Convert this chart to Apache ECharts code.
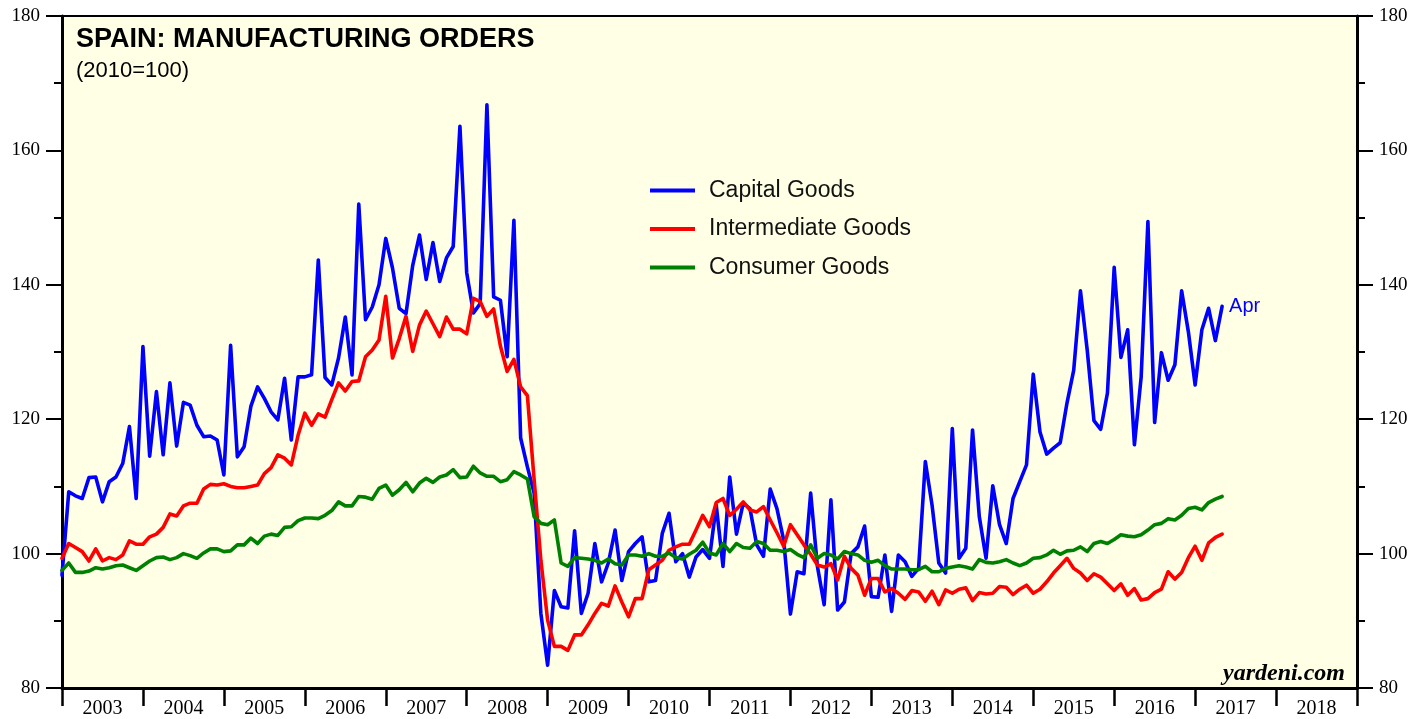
<!DOCTYPE html>
<html>
<head>
<meta charset="utf-8">
<title>Spain: Manufacturing Orders</title>
<script src="https://cdn.jsdelivr.net/npm/echarts@6/dist/echarts.min.js"></script>
<style>
    html, body { margin: 0; padding: 0; background: #fff; }
    #chart { width: 1427px; height: 719px; }
</style>
</head>
<body>
<div id="chart"></div>
<script>
// monthly data, Dec 2002 .. Apr 2017 (2010=100)
var firstMonth = [2002, 12];
var lastMonth = [2017, 4];

var years = ['2003', '2004', '2005', '2006', '2007', '2008', '2009', '2010',
    '2011', '2012', '2013', '2014', '2015', '2016', '2017', '2018'];

var capitalGoods = [
    96.8, 109.2, 108.6, 108.2, 111.3, 111.4, 107.7, 110.7, 111.4, 113.4, 118.9, 108.2,
    130.8, 114.5, 124.1, 114.7, 125.4, 116.0, 122.5, 122.1, 119.1, 117.4, 117.5, 116.9,
    111.7, 131.0, 114.4, 115.9, 121.9, 124.8, 123.1, 121.1, 119.9, 126.1, 116.9, 126.3,
    126.3, 126.6, 143.7, 126.2, 125.1, 129.1, 135.2, 126.6, 152.0, 134.8, 136.7, 140.0,
    146.9, 142.5, 136.5, 135.7, 142.9, 147.4, 140.8, 146.3, 140.5, 144.0, 145.7, 163.6,
    141.8, 135.8, 137.2, 166.8, 138.2, 137.7, 129.3, 149.6, 117.2, 112.9, 109.0, 91.1,
    83.4, 94.5, 92.1, 91.9, 103.4, 91.1, 94.1, 101.5, 95.8, 98.6, 103.5, 96.0,
    100.3, 101.5, 102.5, 95.8, 96.0, 103.0, 106.0, 98.8, 100.0, 96.5, 99.5, 100.6,
    99.3, 107.2, 98.1, 111.4, 102.9, 107.5, 106.7, 101.3, 99.6, 109.6, 106.7, 102.0,
    91.0, 97.3, 97.0, 109.0, 98.1, 92.4, 108.0, 91.6, 92.8, 100.0, 101.0, 104.1,
    93.6, 93.5, 99.8, 91.4, 99.8, 98.8, 96.6, 97.8, 113.7, 107.2, 98.6, 97.1,
    118.6, 99.3, 100.8, 118.4, 105.5, 99.3, 110.1, 104.3, 101.5, 108.2, 110.7, 113.2,
    126.7, 118.1, 114.8, 115.7, 116.5, 122.4, 127.3, 139.1, 130.3, 119.8, 118.5, 123.9,
    142.6, 129.2, 133.3, 116.2, 126.3, 149.4, 119.5, 129.9, 125.8, 128.1, 139.1, 133.0,
    125.1, 133.3, 136.5, 131.7, 136.8
];

var intermediateGoods = [
    99.3, 101.5, 100.9, 100.3, 98.9, 100.7, 98.9, 99.4, 99.1, 99.8, 101.9, 101.4,
    101.4, 102.5, 102.9, 103.9, 105.9, 105.6, 107.1, 107.5, 107.5, 109.6, 110.3, 110.2,
    110.4, 110.0, 109.8, 109.8, 110.0, 110.2, 111.9, 112.8, 114.7, 114.2, 113.2, 117.6,
    120.9, 119.1, 120.8, 120.3, 122.9, 125.4, 124.2, 125.6, 125.7, 129.3, 130.3, 131.8,
    138.3, 129.1, 132.0, 135.3, 130.1, 134.0, 136.1, 134.2, 132.3, 135.2, 133.4, 133.4,
    132.7, 138.0, 137.5, 135.3, 136.4, 130.9, 127.1, 128.9, 124.8, 123.5, 111.0, 99.0,
    90.1, 86.2, 86.2, 85.6, 87.9, 87.9, 89.4, 91.1, 92.6, 92.2, 95.2, 92.8,
    90.6, 93.3, 93.3, 97.6, 98.3, 99.0, 100.5, 101.0, 101.4, 101.4, 103.5, 105.7,
    104.0, 107.6, 108.2, 105.7, 106.6, 107.7, 106.5, 106.2, 107.0, 105.0, 103.1, 101.1,
    104.3, 102.8, 101.3, 99.9, 98.3, 98.0, 98.5, 96.1, 99.6, 97.8, 96.8, 93.8,
    96.3, 96.3, 94.3, 94.8, 94.1, 93.2, 94.5, 94.3, 92.9, 94.4, 92.4, 94.6,
    94.1, 94.7, 94.9, 93.0, 94.2, 94.0, 94.1, 95.1, 95.0, 93.9, 94.7, 95.3,
    94.1, 94.7, 95.8, 97.1, 98.2, 99.3, 97.8, 97.1, 96.0, 97.0, 96.5, 95.5,
    94.5, 95.5, 93.8, 94.8, 93.1, 93.3, 94.2, 94.7, 97.3, 96.2, 97.2, 99.4,
    101.1, 99.0, 101.6, 102.4, 102.9
];

var consumerGoods = [
    97.5, 98.6, 97.2, 97.2, 97.4, 97.9, 97.7, 97.9, 98.2, 98.3, 97.9, 97.5,
    98.2, 98.9, 99.4, 99.5, 99.1, 99.4, 100.0, 99.7, 99.3, 100.1, 100.7, 100.7,
    100.3, 100.4, 101.3, 101.3, 102.3, 101.5, 102.6, 102.9, 102.7, 103.9, 104.0, 104.9,
    105.3, 105.3, 105.2, 105.7, 106.4, 107.7, 107.1, 107.1, 108.5, 108.4, 108.1, 109.7,
    110.2, 108.7, 109.5, 110.6, 109.2, 110.5, 111.2, 110.6, 111.4, 111.7, 112.5, 111.3,
    111.4, 113.0, 112.0, 111.5, 111.5, 110.7, 111.0, 112.2, 111.7, 111.1, 105.5, 104.5,
    104.3, 105.0, 98.6, 98.1, 99.4, 99.3, 99.2, 99.0, 98.6, 99.2, 98.5, 98.3,
    99.8, 99.8, 99.6, 100.0, 99.6, 99.6, 100.1, 99.4, 99.2, 99.9, 100.5, 101.7,
    100.1, 99.8, 101.5, 100.3, 101.5, 100.9, 100.8, 101.8, 101.5, 100.5, 100.5, 100.3,
    100.6, 99.9, 99.4, 101.3, 99.3, 100.0, 99.8, 99.2, 100.3, 100.0, 99.8, 99.0,
    98.7, 99.0, 98.2, 97.7, 97.7, 97.7, 97.6, 97.6, 98.1, 97.3, 97.3, 97.8,
    98.0, 98.2, 98.0, 97.7, 99.1, 98.7, 98.6, 98.8, 99.1, 98.6, 98.2, 98.6,
    99.3, 99.4, 99.8, 100.5, 99.9, 100.4, 100.5, 101.0, 100.3, 101.5, 101.8, 101.5,
    102.1, 102.8, 102.6, 102.5, 102.8, 103.5, 104.3, 104.5, 105.2, 105.0, 105.7, 106.7,
    106.9, 106.5, 107.6, 108.1, 108.5
];

var monthNames = ['Jan', 'Feb', 'Mar', 'Apr', 'May', 'Jun', 'Jul', 'Aug', 'Sep', 'Oct', 'Nov', 'Dec'];

// month list, e.g. '2002-12'
var months = [];
for (var y = firstMonth[0]; y <= lastMonth[0]; y++) {
    for (var m = 1; m <= 12; m++) {
        if (y === firstMonth[0] && m < firstMonth[1]) continue;
        if (y === lastMonth[0] && m > lastMonth[1]) break;
        months.push(y + '-' + (m < 10 ? '0' + m : m));
    }
}

// value plotted at the end of its month
function toPoints(values) {
    return values.map(function (v, i) {
        var parts = months[i].split('-');
        return [parseInt(parts[0]) + parseInt(parts[1]) / 12, v];
    });
}

var sans = "'Liberation Sans', Arial, Helvetica, sans-serif";
var serif = "'Liberation Serif', 'Times New Roman', serif";

function yAxis(position) {
    return {
        type: 'value',
        position: position,
        min: 80,
        max: 180,
        interval: 20,
        axisLine: { show: true, lineStyle: { color: '#000', width: 3 } },
        axisTick: { show: true, length: 16, lineStyle: { color: '#000', width: 2 } },
        minorTick: { show: true, splitNumber: 2, length: 8, lineStyle: { color: '#000', width: 2 } },
        axisLabel: { fontFamily: serif, fontSize: 19, color: '#000', margin: 22 },
        splitLine: { show: false }
    };
}

function lineSeries(name, color, values) {
    return {
        name: name,
        type: 'line',
        xAxisIndex: 0,
        data: toPoints(values),
        showSymbol: false,
        symbol: 'none',
        lineStyle: { color: color, width: 3.6, join: 'round', cap: 'round' },
        itemStyle: { color: color },
        z: 3
    };
}

var lastLabel = monthNames[parseInt(months[months.length - 1].split('-')[1]) - 1];

var blue = lineSeries('Capital Goods', '#0000ff', capitalGoods);
blue.endLabel = {
    show: true,
    formatter: lastLabel,
    color: '#0000ff',
    fontFamily: sans,
    fontSize: 20,
    distance: 7
};

echarts.init(document.querySelector('#chart')).setOption({
    animation: false,
    backgroundColor: '#ffffff',
    title: {
        text: 'SPAIN: MANUFACTURING ORDERS',
        subtext: '(2010=100)',
        left: 76,
        top: 26,
        padding: 0,
        itemGap: 7,
        textStyle: { fontFamily: sans, fontSize: 27, fontWeight: 'bold', color: '#000' },
        subtextStyle: { fontFamily: sans, fontSize: 22, color: '#000' }
    },
    legend: {
        orient: 'vertical',
        left: 650,
        top: 179,
        padding: 0,
        itemGap: 15.5,
        itemWidth: 45,
        itemHeight: 4,
        icon: 'rect',
        textStyle: { fontFamily: sans, fontSize: 23, color: '#111', padding: [0, 0, 0, 9] },
        data: ['Capital Goods', 'Intermediate Goods', 'Consumer Goods']
    },
    grid: {
        left: 62,
        right: 70,
        top: 16,
        bottom: 30,
        show: true,
        backgroundColor: '#ffffe6',
        borderColor: '#000',
        borderWidth: 2
    },
    xAxis: [{
        type: 'value',
        min: 2003,
        max: 2019,
        interval: 1,
        axisLine: { show: true, onZero: false, lineStyle: { color: '#000', width: 3 } },
        axisTick: { show: true, length: 18, lineStyle: { color: '#000', width: 2.5 } },
        axisLabel: { show: false },
        splitLine: { show: false }
    }, {
        type: 'category',
        position: 'bottom',
        data: years,
        boundaryGap: true,
        axisLine: { show: false },
        axisTick: { show: false },
        axisLabel: { fontFamily: serif, fontSize: 20, color: '#000', margin: 11 }
    }],
    yAxis: [yAxis('left'), yAxis('right')],
    graphic: [{
        type: 'text',
        right: 82,
        top: 662,
        style: {
            text: 'yardeni.com',
            font: "italic bold 24px 'Liberation Serif', 'Times New Roman', serif",
            fill: '#000'
        },
        z: 10
    }],
    series: [
        blue,
        lineSeries('Intermediate Goods', '#ff0000', intermediateGoods),
        lineSeries('Consumer Goods', '#008000', consumerGoods)
    ]
});
</script>
</body>
</html>
